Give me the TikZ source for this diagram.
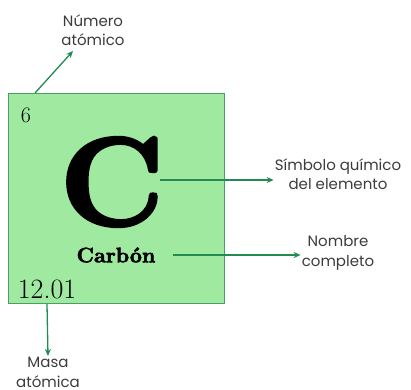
\documentclass[tikz,border=0pt]{standalone}
\usepackage{fontspec}
\newfontfamily\labelfont{Poppins}
\newfontfamily\heavyserif[FakeBold=2.5]{lmroman10-bold.otf}
\usetikzlibrary{arrows.meta}

\definecolor{cellfill}{RGB}{160,233,160}
\definecolor{celldraw}{RGB}{72,158,100}
\definecolor{arrowgreen}{RGB}{36,138,82}
\definecolor{labelgray}{RGB}{60,60,60}

\tikzset{
	lbl/.style={align=center, text=labelgray, font=\labelfont\fontsize{15}{19.5}\selectfont, inner sep=1pt},
	arr/.style={draw=arrowgreen, line width=1.3pt, -{Stealth[length=7pt,width=6pt]}}
}

\begin{document}
\begin{tikzpicture}[x=1pt, y=-1pt]
		\useasboundingbox (0,0) rectangle (411,389);
		
		% the cell
		\node[draw=celldraw, fill=cellfill, line width=1.2pt, minimum width=216pt, minimum height=210pt, anchor=north west, inner sep=0pt] (cell) at (8,93) {};
		
		\node (num) at (26,115) {\fontsize{22}{22}\selectfont 6};
		\node[inner sep=0pt] (sym) at (112,182) {\heavyserif\fontsize{126}{126}\selectfont C};
		\node[inner sep=1pt] (name) at (116,255) {\heavyserif\fontsize{21}{21}\selectfont Carbón};
		\node (mass) at (47,289) {\fontsize{28}{28}\selectfont 12.01};
		
		% the labels
		\node[lbl] (numlbl) at (93,30) {Número\\atómico};
		\node[lbl] (symlbl) at (338,174) {Símbolo químico\\del elemento};
		\node[lbl] (namelbl) at (338,253) {Nombre\\completo};
		\node[lbl, anchor=north] (masslbl) at (48,356) {Masa\\atómica};
		
		\coordinate (numfoot) at (35,93);
		\coordinate (numtip) at (73,51);
		\coordinate (symfoot) at (160,180);
		\coordinate (namefoot) at (173,255);
		
		\draw[arr] (numfoot) -- (numtip);
		\draw[arr] (symfoot) -- (symfoot -| symlbl.west);
		\draw[arr] (namefoot) -- (namefoot -| namelbl.west);
		\draw[arr] (mass.south |- cell.south) -- (masslbl.north);
\end{tikzpicture}
\end{document}
